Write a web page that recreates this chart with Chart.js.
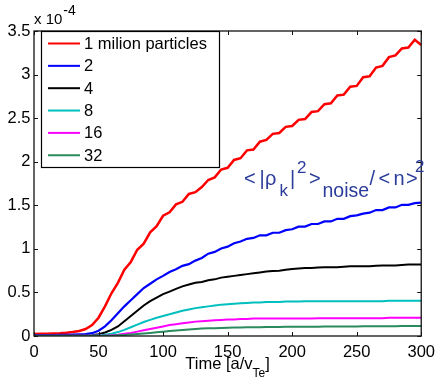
<!DOCTYPE html>
<html><head><meta charset="utf-8">
<script src="https://cdn.jsdelivr.net/npm/chart.js@4"></script>
<style>html,body{margin:0;padding:0;background:#fff}</style>
</head><body>
<canvas id="c" width="442" height="378"></canvas>
<script>
// ---- data (values in units of 1e-4) ----
const time = [0,5,10,15,20,25,30,35,40,45,50,55,60,65,70,75,80,85,90,95,100,105,110,115,120,125,130,135,140,145,150,155,160,165,170,175,180,185,190,195,200,205,210,215,220,225,230,235,240,245,250,255,260,265,270,275,280,285,290,295,300];
const seriesLabels = ['1 milion particles','2','4','8','16','32'];
const red = [0.023,0.025,0.027,0.030,0.033,0.038,0.045,0.058,0.080,0.125,
 0.21,0.34,0.49,0.61,0.76,0.85,0.99,1.06,1.19,1.26,
 1.38,1.42,1.51,1.54,1.63,1.65,1.71,1.79,1.82,1.91,
 1.93,2.02,2.04,2.13,2.14,2.23,2.25,2.32,2.33,2.40,
 2.41,2.48,2.49,2.57,2.58,2.66,2.67,2.76,2.77,2.86,
 2.87,2.97,2.98,3.08,3.10,3.20,3.22,3.30,3.31,3.40,
 3.34];
const blue = [0.010,0.010,0.010,0.010,0.012,0.013,0.015,0.018,0.022,0.032,
 0.060,0.110,0.180,0.260,0.340,0.410,0.480,0.550,0.600,0.650,
 0.690,0.735,0.765,0.805,0.825,0.865,0.895,0.945,0.965,1.005,
 1.025,1.065,1.085,1.115,1.125,1.155,1.155,1.185,1.185,1.215,
 1.225,1.255,1.255,1.285,1.285,1.315,1.315,1.345,1.345,1.375,
 1.385,1.405,1.415,1.445,1.445,1.475,1.475,1.505,1.505,1.525,
 1.530];
const black = [0.005,0.005,0.005,0.005,0.005,0.005,0.005,0.005,0.006,0.010,
 0.020,0.040,0.070,0.110,0.170,0.230,0.290,0.350,0.400,0.440,
 0.480,0.510,0.540,0.570,0.590,0.610,0.620,0.640,0.650,0.670,
 0.680,0.690,0.700,0.710,0.720,0.730,0.740,0.745,0.750,0.760,
 0.770,0.775,0.780,0.780,0.785,0.790,0.790,0.790,0.795,0.800,
 0.800,0.800,0.800,0.805,0.810,0.810,0.810,0.815,0.820,0.820,
 0.820];
const cyan = [0.003,0.003,0.003,0.003,0.003,0.003,0.003,0.003,0.003,0.005,
 0.008,0.015,0.025,0.045,0.070,0.100,0.130,0.160,0.185,0.210,
 0.230,0.250,0.270,0.290,0.305,0.320,0.330,0.340,0.350,0.360,
 0.365,0.370,0.375,0.380,0.385,0.385,0.390,0.390,0.390,0.395,
 0.395,0.395,0.400,0.400,0.400,0.400,0.400,0.400,0.400,0.400,
 0.400,0.400,0.400,0.400,0.400,0.405,0.405,0.405,0.405,0.405,
 0.405];
const magenta = [0.002,0.002,0.002,0.002,0.002,0.002,0.002,0.002,0.002,0.002,
 0.002,0.004,0.008,0.015,0.025,0.035,0.050,0.065,0.080,0.095,
 0.110,0.125,0.135,0.145,0.155,0.165,0.170,0.175,0.180,0.185,
 0.190,0.190,0.195,0.195,0.200,0.200,0.200,0.200,0.200,0.200,
 0.200,0.200,0.200,0.200,0.205,0.205,0.205,0.205,0.205,0.205,
 0.205,0.205,0.205,0.205,0.205,0.210,0.210,0.210,0.210,0.210,
 0.210];
const green = [0.001,0.001,0.001,0.001,0.001,0.001,0.001,0.001,0.001,0.001,
 0.001,0.002,0.004,0.008,0.012,0.017,0.022,0.028,0.035,0.042,
 0.050,0.057,0.064,0.070,0.075,0.080,0.085,0.088,0.090,0.093,
 0.095,0.097,0.098,0.099,0.100,0.101,0.102,0.103,0.104,0.105,
 0.105,0.106,0.106,0.107,0.107,0.108,0.108,0.109,0.109,0.110,
 0.110,0.111,0.111,0.112,0.112,0.113,0.113,0.114,0.114,0.115,
 0.115];
const xTickLabels = ['0','50','100','150','200','250','300'];
const yTickLabels = ['0','0.5','1','1.5','2','2.5','3','3.5'];

// ---- styles ----
const seriesValues = [red, blue, black, cyan, magenta, green];
const colors = ['#ff0000','#0000ff','#000000','#00bfbf','#ff00ff','#2b8a5e'];
const widths = [2.5, 2.2, 2, 2, 2, 2];
const FONT = '"Liberation Sans", Arial, Helvetica, sans-serif';
const FS = 16.5;

const datasets = seriesLabels.map((lab, i) => ({
  label: lab,
  data: time.map((t, j) => ({x: t, y: seriesValues[i][j]})),
  borderColor: colors[i],
  backgroundColor: colors[i],
  borderWidth: widths[i],
  pointRadius: 0,
  tension: 0,
  fill: false,
  order: seriesLabels.length - 1 - i
}));

const decor = {
  id: 'decor',
  afterDatasetsDraw(chart) {
    const ctx = chart.ctx;
    const a = chart.chartArea;
    const xs = chart.scales.x, ys = chart.scales.y;
    ctx.save();
    // box
    ctx.strokeStyle = '#111';
    ctx.lineWidth = 1.3;
    ctx.strokeRect(a.left, a.top, a.right - a.left, a.bottom - a.top);
    // inward ticks
    ctx.lineWidth = 1;
    const tl = 4;
    xs.ticks.forEach(t => {
      const px = Math.round(xs.getPixelForValue(t.value)) + 0.5;
      ctx.beginPath();
      ctx.moveTo(px, a.bottom); ctx.lineTo(px, a.bottom - tl);
      ctx.moveTo(px, a.top); ctx.lineTo(px, a.top + tl);
      ctx.stroke();
    });
    ys.ticks.forEach(t => {
      const py = Math.round(ys.getPixelForValue(t.value)) + 0.5;
      ctx.beginPath();
      ctx.moveTo(a.left, py); ctx.lineTo(a.left + tl, py);
      ctx.moveTo(a.right, py); ctx.lineTo(a.right - tl, py);
      ctx.stroke();
    });
    // legend
    const lx = 41, ly = a.top, lw = 178, lh = 136;
    ctx.fillStyle = '#fff';
    ctx.fillRect(lx, ly, lw, lh);
    ctx.strokeStyle = '#000';
    ctx.lineWidth = 1.2;
    ctx.strokeRect(lx + 0.5, ly + 0.5, lw, lh);
    ctx.font = FS + 'px ' + FONT;
    ctx.textBaseline = 'middle';
    ctx.textAlign = 'left';
    chart.data.datasets.forEach((ds, i) => {
      const yy = ly + 12.5 + i * 22.35;
      ctx.strokeStyle = ds.borderColor;
      ctx.lineWidth = 2;
      ctx.beginPath(); ctx.moveTo(48, yy); ctx.lineTo(80, yy); ctx.stroke();
      ctx.fillStyle = '#000';
      ctx.fillText(ds.label, 84, yy + 1);
    });
    // exponent
    ctx.textBaseline = 'alphabetic';
    ctx.fillStyle = '#000';
    ctx.font = '15px ' + FONT;
    ctx.fillText('x 10', 34, 24);
    const w10 = ctx.measureText('x 10').width;
    ctx.font = '14px ' + FONT;
    ctx.fillText('-4', 34 + w10 + 1, 15);
    // x title with subscript
    const main = 'Time [a/v', sub = 'Te', end = ']';
    ctx.font = FS + 'px ' + FONT;
    const wm = ctx.measureText(main).width, we = ctx.measureText(end).width;
    ctx.font = '12px ' + FONT;
    const ws = ctx.measureText(sub).width;
    let x0 = (a.left + a.right) / 2 - (wm + ws + we) / 2;
    ctx.font = FS + 'px ' + FONT;
    ctx.fillText(main, x0, 368.5);
    ctx.font = '12px ' + FONT;
    ctx.fillText(sub, x0 + wm, 377);
    ctx.font = FS + 'px ' + FONT;
    ctx.fillText(end, x0 + wm + ws, 368.5);
    // annotation  <|rho_k|^2>_noise/<n>^2
    ctx.fillStyle = '#2b3c9a';
    const pieces = [
      ['<', 20, 244, 185],
      ['|', 20, 259.5, 185],
      ['\u03c1', 20, 265, 185],
      ['k', 17, 279.5, 196],
      ['|', 20, 290, 185],
      ['2', 17, 297, 173],
      ['>', 20, 309, 185],
      ['noise', 19.5, 322.5, 197],
      ['/', 20, 369.5, 185],
      ['<', 20, 378.5, 185],
      ['n', 20, 393.5, 185],
      ['>', 20, 406, 185],
      ['2', 17, 415, 172]
    ];
    pieces.forEach(p => {
      ctx.font = p[1] + 'px ' + FONT;
      ctx.fillText(p[0], p[2], p[3]);
    });
    ctx.restore();
  }
};

new Chart(document.getElementById('c'), {
  type: 'line',
  data: { datasets },
  options: {
    responsive: false,
    animation: false,
    devicePixelRatio: 1,
    layout: { padding: { left: 0, right: 15, top: 31, bottom: 0 } },
    plugins: { legend: { display: false }, tooltip: { enabled: false }, title: { display: false } },
    scales: {
      x: {
        type: 'linear', min: 0, max: 300,
        grid: { display: false, drawTicks: false }, border: { display: false },
        ticks: { stepSize: 50, color: '#000', font: { family: FONT, size: FS }, padding: 7,
          maxRotation: 0, autoSkip: false,
          callback: (v, i) => xTickLabels[i] },
        afterFit: s => { s.height = 42; }
      },
      y: {
        min: 0, max: 3.5,
        grid: { display: false, drawTicks: false }, border: { display: false },
        ticks: { stepSize: 0.5, color: '#000', font: { family: FONT, size: FS }, padding: 3.5,
          callback: (v, i) => yTickLabels[i] },
        afterFit: s => { s.width = 34; }
      }
    }
  },
  plugins: [decor]
});
</script>
</body></html>
